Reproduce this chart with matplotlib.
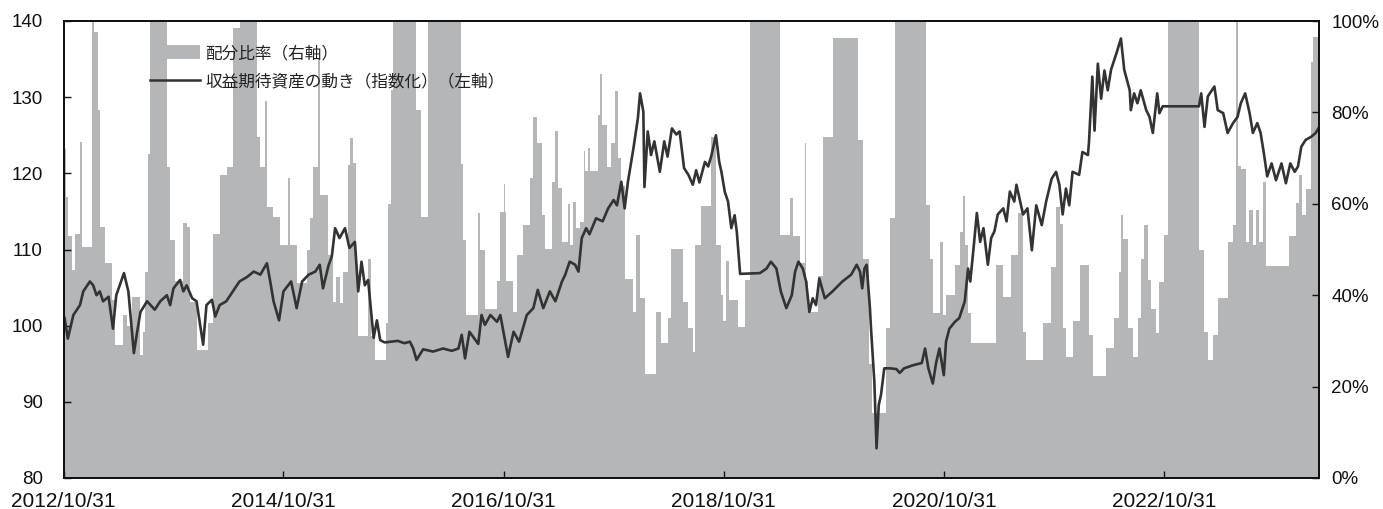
import matplotlib
matplotlib.use("Agg")
import matplotlib.pyplot as plt
import matplotlib.ticker as mticker
import matplotlib.dates as mdates
from matplotlib.patches import Patch
from matplotlib.lines import Line2D
import pandas as pd

# ---------------- data (time as decimal years) ----------------
alloc_time = [
    2012.831, 2012.854, 2012.872, 2012.908, 2012.935, 2012.976, 2012.999, 2013.087, 2013.105, 2013.142,
    2013.162, 2013.208, 2013.269, 2013.299, 2013.371, 2013.405, 2013.450, 2013.526, 2013.553, 2013.571,
    2013.598, 2013.617, 2013.768, 2013.798, 2013.844, 2013.919, 2013.950, 2013.980, 2014.041, 2014.146,
    2014.192, 2014.252, 2014.313, 2014.373, 2014.434, 2014.586, 2014.616, 2014.661, 2014.677, 2014.737,
    2014.797, 2014.873, 2014.888, 2014.949, 2015.040, 2015.070, 2015.097, 2015.147, 2015.165, 2015.233,
    2015.282, 2015.312, 2015.342, 2015.372, 2015.415, 2015.438, 2015.463, 2015.494, 2015.509, 2015.599,
    2015.630, 2015.660, 2015.767, 2015.781, 2015.806, 2015.824, 2016.039, 2016.084, 2016.144, 2016.441,
    2016.462, 2016.493, 2016.598, 2016.620, 2016.659, 2016.766, 2016.796, 2016.832, 2016.844, 2016.856,
    2016.916, 2016.947, 2017.007, 2017.068, 2017.098, 2017.129, 2017.174, 2017.204, 2017.265, 2017.295,
    2017.325, 2017.356, 2017.416, 2017.431, 2017.461, 2017.492, 2017.522, 2017.559, 2017.572, 2017.595,
    2017.613, 2017.688, 2017.704, 2017.728, 2017.765, 2017.810, 2017.840, 2017.870, 2017.901, 2017.931,
    2018.006, 2018.037, 2018.067, 2018.113, 2018.219, 2018.264, 2018.324, 2018.355, 2018.460, 2018.506,
    2018.551, 2018.567, 2018.628, 2018.718, 2018.764, 2018.809, 2018.824, 2018.855, 2018.878, 2018.960,
    2019.021, 2019.066, 2019.339, 2019.430, 2019.460, 2019.520, 2019.566, 2019.581, 2019.593, 2019.687,
    2019.732, 2019.823, 2020.050, 2020.093, 2020.156, 2020.183, 2020.308, 2020.338, 2020.383, 2020.671,
    2020.701, 2020.731, 2020.792, 2020.822, 2020.853, 2020.928, 2020.974, 2021.004, 2021.019, 2021.049,
    2021.080, 2021.307, 2021.367, 2021.443, 2021.503, 2021.549, 2021.579, 2021.730, 2021.807, 2021.852,
    2021.882, 2021.912, 2021.943, 2022.003, 2022.064, 2022.154, 2022.184, 2022.306, 2022.381, 2022.427,
    2022.442, 2022.460, 2022.502, 2022.548, 2022.593, 2022.624, 2022.654, 2022.684, 2022.715, 2022.760,
    2022.790, 2022.836, 2022.866, 2023.153, 2023.199, 2023.229, 2023.274, 2023.320, 2023.410, 2023.456,
    2023.487, 2023.501, 2023.532, 2023.578, 2023.608, 2023.638, 2023.668, 2023.698, 2023.728, 2023.759,
    2023.971, 2024.032, 2024.062, 2024.086, 2024.123, 2024.168, 2024.189, 2024.240,
]
alloc_pct = [
    72, 61.5, 53, 45.5, 53.5, 73.6, 50.6, 100, 97.7, 80.5,
    55, 47, 39, 29.1, 35.6, 33.3, 39.7, 26.9, 32, 45,
    71, 100, 68.1, 52, 43, 55.7, 55, 38.6, 28, 34,
    53.5, 66.3, 68, 98.4, 100, 74.7, 68, 82.4, 59.4, 57.2,
    51, 65.6, 51, 42.6, 50, 57, 68, 92, 62, 48.8,
    38.6, 44, 38.3, 45, 68.5, 74.5, 68.9, 45, 31, 48,
    31, 25.8, 34, 60, 85, 100, 80.5, 57.2, 100, 68.8,
    52, 35.6, 58, 50, 37, 43, 58.2, 64.4, 58.2, 43,
    36.3, 48.8, 55.4, 65.6, 78.9, 73.4, 57.5, 50.2, 64.8, 76,
    63.4, 51.7, 60, 50.9, 60.4, 54.6, 56, 71.6, 67.1, 72.3,
    67.1, 79.4, 88.5, 77.3, 68, 73.4, 84.7, 70, 64, 43.6,
    36.3, 53.2, 39.3, 22.8, 36.3, 29.5, 35, 50.2, 38.6, 32.8,
    27.6, 51, 59.6, 74.7, 51, 40, 34.4, 47.5, 38.9, 33,
    43.4, 100, 53.2, 61.2, 52.9, 47, 73.4, 43, 36.4, 44.3,
    74.7, 96.2, 74, 48, 25, 14.3, 32.8, 57, 100, 59.7,
    48, 36, 51.7, 35.6, 40, 46.5, 53.9, 61.7, 51, 36,
    29.5, 46.6, 39.6, 48.8, 58, 32, 25.8, 34, 46.2, 59.3,
    55.6, 32.8, 26.5, 34.3, 46.6, 31.3, 22.3, 28.4, 35, 45,
    57.5, 52.4, 32.8, 26.5, 35, 48, 55.4, 43.4, 36.9, 31.8,
    42.9, 53.2, 100, 50, 32, 25.8, 31.3, 39.3, 51.7, 55.4,
    100, 68.3, 67.6, 51.7, 58.7, 51, 58.7, 51.7, 64.8, 46.3,
    52.9, 60.1, 66.3, 57.5, 63.2, 91.1, 96.6, 96.6,
]

index_time = [
    2012.84, 2012.87, 2012.92, 2012.98, 2013.01, 2013.07, 2013.10, 2013.13, 2013.16, 2013.19,
    2013.24, 2013.28, 2013.31, 2013.38, 2013.42, 2013.47, 2013.50, 2013.53, 2013.59, 2013.66,
    2013.71, 2013.77, 2013.80, 2013.83, 2013.89, 2013.92, 2013.95, 2014.00, 2014.04, 2014.10,
    2014.13, 2014.18, 2014.21, 2014.25, 2014.31, 2014.37, 2014.43, 2014.50, 2014.56, 2014.62,
    2014.68, 2014.71, 2014.74, 2014.79, 2014.83, 2014.90, 2014.95, 2015.00, 2015.06, 2015.12,
    2015.16, 2015.19, 2015.24, 2015.27, 2015.30, 2015.34, 2015.39, 2015.43, 2015.48, 2015.51,
    2015.54, 2015.57, 2015.60, 2015.65, 2015.68, 2015.71, 2015.75, 2015.87, 2015.93, 2015.98,
    2016.01, 2016.04, 2016.10, 2016.19, 2016.28, 2016.36, 2016.42, 2016.45, 2016.48, 2016.52,
    2016.56, 2016.60, 2016.63, 2016.66, 2016.71, 2016.77, 2016.80, 2016.87, 2016.92, 2016.97,
    2017.04, 2017.10, 2017.14, 2017.19, 2017.25, 2017.30, 2017.36, 2017.39, 2017.43, 2017.48,
    2017.51, 2017.54, 2017.58, 2017.61, 2017.67, 2017.73, 2017.78, 2017.83, 2017.86, 2017.90,
    2017.93, 2017.96, 2018.01, 2018.05, 2018.07, 2018.10, 2018.11, 2018.14, 2018.17, 2018.20,
    2018.25, 2018.29, 2018.32, 2018.36, 2018.40, 2018.43, 2018.47, 2018.51, 2018.55, 2018.58,
    2018.61, 2018.66, 2018.69, 2018.72, 2018.76, 2018.79, 2018.81, 2018.84, 2018.87, 2018.90,
    2018.93, 2018.95, 2018.98, 2019.16, 2019.22, 2019.26, 2019.31, 2019.35, 2019.40, 2019.45,
    2019.48, 2019.51, 2019.55, 2019.58, 2019.61, 2019.64, 2019.67, 2019.70, 2019.75, 2019.82,
    2019.91, 2019.99, 2020.04, 2020.07, 2020.09, 2020.11, 2020.13, 2020.16, 2020.17, 2020.20,
    2020.22, 2020.24, 2020.26, 2020.29, 2020.34, 2020.40, 2020.43, 2020.47, 2020.55, 2020.63,
    2020.66, 2020.69, 2020.73, 2020.76, 2020.79, 2020.83, 2020.85, 2020.88, 2020.93, 2020.97,
    2021.02, 2021.05, 2021.07, 2021.10, 2021.13, 2021.16, 2021.19, 2021.23, 2021.26, 2021.29,
    2021.32, 2021.37, 2021.40, 2021.43, 2021.47, 2021.49, 2021.55, 2021.59, 2021.63, 2021.67,
    2021.72, 2021.76, 2021.81, 2021.85, 2021.88, 2021.91, 2021.94, 2021.97, 2022.00, 2022.06,
    2022.09, 2022.14, 2022.15, 2022.18, 2022.20, 2022.23, 2022.26, 2022.29, 2022.32, 2022.35,
    2022.40, 2022.44, 2022.47, 2022.52, 2022.53, 2022.56, 2022.59, 2022.62, 2022.67, 2022.70,
    2022.73, 2022.77, 2022.79, 2022.82, 2023.15, 2023.17, 2023.20, 2023.23, 2023.29, 2023.32,
    2023.37, 2023.41, 2023.46, 2023.50, 2023.53, 2023.57, 2023.61, 2023.64, 2023.68, 2023.71,
    2023.74, 2023.77, 2023.81, 2023.85, 2023.90, 2023.94, 2023.98, 2024.02, 2024.05, 2024.08,
    2024.12, 2024.17, 2024.21, 2024.235,
]
index_value = [
    101.0, 98.3, 101.4, 102.7, 104.5, 105.8, 105.3, 104.0, 104.5, 103.2,
    103.8, 99.6, 104.0, 106.9, 104.5, 96.4, 99.2, 101.8, 103.2, 102.1,
    103.2, 104.0, 102.7, 104.9, 106.0, 104.5, 105.3, 103.6, 103.2, 97.5,
    102.7, 103.4, 101.2, 102.7, 103.2, 104.5, 105.8, 106.4, 107.1, 106.7,
    108.2, 105.8, 103.2, 100.7, 104.5, 105.8, 102.3, 105.8, 106.7, 107.1,
    108.0, 104.9, 107.9, 109.1, 112.8, 111.5, 112.8, 110.2, 111.0, 104.5,
    108.4, 105.3, 106.0, 98.4, 100.7, 98.1, 97.8, 98.0, 97.7, 97.9,
    97.0, 95.5, 96.9, 96.6, 97.0, 96.7, 97.0, 98.8, 95.7, 99.2,
    98.4, 97.6, 101.4, 100.1, 101.4, 100.5, 101.4, 95.9, 99.2, 97.9,
    101.4, 102.3, 104.7, 102.3, 104.5, 103.2, 105.8, 106.7, 108.4, 108.0,
    107.1, 111.5, 112.8, 112.0, 114.1, 113.7, 115.4, 116.5, 115.8, 118.9,
    115.4, 118.9, 123.3, 127.2, 130.5, 128.1, 118.2, 125.5, 122.4, 124.2,
    120.2, 124.2, 122.2, 125.9, 125.1, 125.5, 120.7, 119.8, 118.5, 120.4,
    118.8, 121.5, 120.9, 122.4, 125.0, 121.5, 120.2, 117.6, 116.3, 112.8,
    114.5, 112.3, 106.8, 106.9, 107.5, 108.4, 107.5, 104.5, 102.3, 104.0,
    107.1, 108.4, 107.5, 105.8, 101.8, 103.6, 102.7, 106.2, 103.6, 104.5,
    105.8, 106.7, 108.0, 107.1, 104.9, 107.5, 108.0, 102.3, 99.6, 92.6,
    83.9, 89.6, 90.9, 94.4, 94.4, 94.3, 93.8, 94.4, 94.8, 95.1,
    97.0, 94.4, 92.4, 95.1, 97.0, 93.5, 97.9, 99.6, 100.5, 101.0,
    103.2, 107.5, 105.8, 110.2, 114.8, 111.0, 112.8, 108.0, 111.5, 112.4,
    114.6, 115.4, 113.7, 117.6, 116.3, 118.5, 114.6, 115.4, 109.9, 115.8,
    113.2, 116.3, 119.3, 120.2, 118.5, 114.6, 118.0, 115.8, 120.2, 119.8,
    122.8, 122.4, 124.2, 132.7, 125.6, 134.4, 129.8, 133.5, 130.9, 133.6,
    135.8, 137.7, 133.6, 130.9, 128.3, 130.5, 129.2, 130.9, 128.3, 127.4,
    125.3, 130.5, 127.9, 128.8, 128.8, 130.5, 126.1, 130.1, 131.4, 128.3,
    127.9, 125.3, 126.6, 127.4, 129.2, 130.5, 127.9, 125.3, 126.6, 125.3,
    122.6, 119.6, 121.3, 119.1, 121.3, 118.7, 121.3, 120.2, 120.9, 123.5,
    124.4, 124.8, 125.3, 125.9,
]

x_tick_dates = ["2012-10-31", "2014-10-31", "2016-10-31", "2018-10-31", "2020-10-31", "2022-10-31"]
left_ticks = [80, 90, 100, 110, 120, 130, 140]
right_ticks = [0, 20, 40, 60, 80, 100]
legend_labels = ["配分比率（右軸）", "収益期待資産の動き（指数化）（左軸）"]


def to_dt(y):
    year = int(y)
    start = pd.Timestamp(year=year, month=1, day=1)
    end = pd.Timestamp(year=year + 1, month=1, day=1)
    return start + (end - start) * (y - year)


alloc_dates = [to_dt(v) for v in alloc_time]
index_dates = [to_dt(v) for v in index_time]

GRAY = "#b5b6b8"
LINE = "#333333"
TICK_FONT = ["Liberation Sans", "DejaVu Sans"]
JP_FONT = ["Noto Sans CJK JP", "DejaVu Sans"]

W, H = 1383, 509
fig = plt.figure(figsize=(W / 100, H / 100), dpi=100)
ax = fig.add_axes([63.5 / W, (H - 478) / H, (1319 - 63.5) / W, (478 - 21) / H])
ax2 = ax.twinx()

# allocation area (right axis)
ax.fill_between(alloc_dates, 0, alloc_pct, step="post", color=GRAY, linewidth=0)
ax.set_ylim(0, 100)
ax.yaxis.tick_right()
ax.set_yticks(right_ticks)
ax.yaxis.set_major_formatter(mticker.FuncFormatter(lambda v, p: f"{v:.0f}%"))

# index line (left axis)
ax2.plot(index_dates, index_value, color=LINE, linewidth=1.9, solid_joinstyle="round")
ax2.set_ylim(80, 140)
ax2.yaxis.tick_left()
ax2.set_yticks(left_ticks)

ax.set_xlim(pd.Timestamp("2012-10-31"), pd.Timestamp("2024-03-29"))
ax.set_xticks([pd.Timestamp(d) for d in x_tick_dates])
ax.xaxis.set_major_formatter(mdates.DateFormatter("%Y/%m/%d"))

for a in (ax, ax2):
    for s in a.spines.values():
        s.set_linewidth(1.3)
        s.set_color("#111111")

ax.tick_params(axis="x", direction="in", length=5, width=1, pad=10, labelsize=15, colors="#111111")
ax.tick_params(axis="y", direction="in", length=5, width=1, pad=9, labelsize=13.5, colors="#111111",
               right=True, left=False, labelright=True, labelleft=False)
ax2.tick_params(axis="y", direction="in", length=5, width=1, pad=15, labelsize=13.5, colors="#111111",
                left=True, right=False, labelleft=True, labelright=False)
for lab in ax.get_xticklabels() + ax.get_yticklabels() + ax2.get_yticklabels():
    lab.set_family(TICK_FONT)

handles = [Patch(facecolor=GRAY, edgecolor="none"), Line2D([0], [0], color=LINE, linewidth=1.8)]
leg = ax2.legend(handles, legend_labels, loc="upper left", bbox_to_anchor=(150 / W, 1 - 45 / H),
                 bbox_transform=fig.transFigure, frameon=False, prop={"family": JP_FONT, "size": 12},
                 handlelength=3.0, handleheight=0.9, handletextpad=0.3, labelspacing=0.68,
                 borderpad=0, borderaxespad=0)
for t in leg.get_texts():
    t.set_color("#222222")

fig.savefig("out.png", dpi=100)
